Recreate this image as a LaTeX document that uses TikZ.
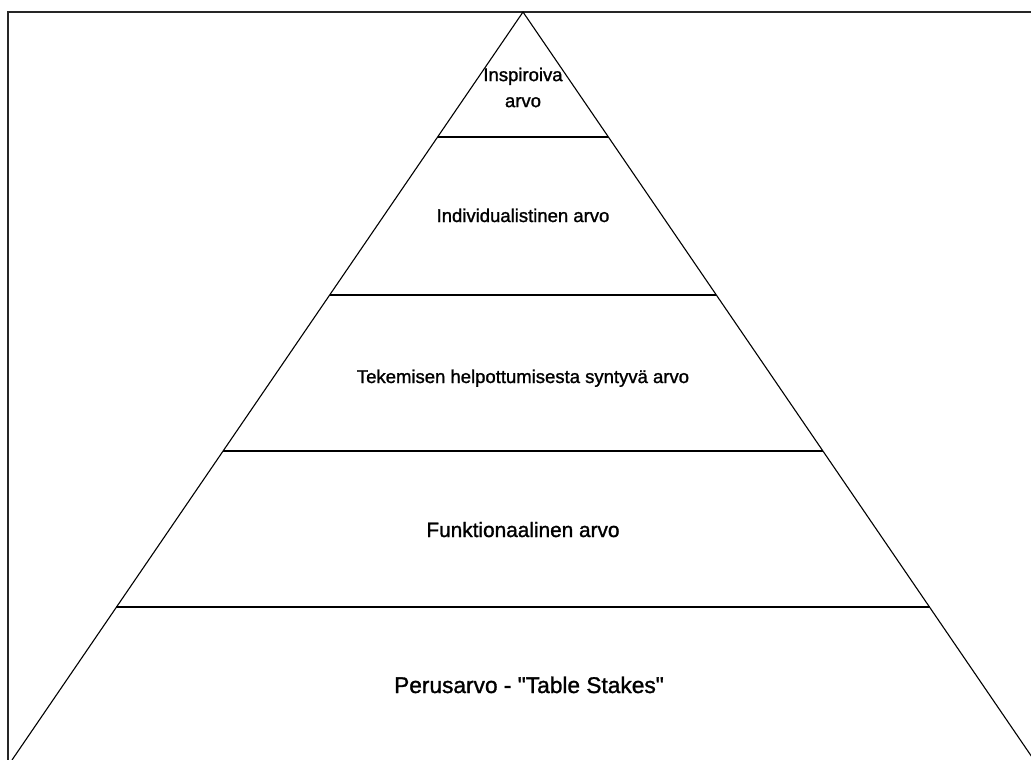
\documentclass[tikz,border=0pt]{standalone}
\usepackage{fontspec}
\setmainfont{Liberation Sans}
\newfontfamily\labfont{Liberation Sans}[FakeBold=1.3,Ligatures=TeXOff]
\usetikzlibrary{calc}
\begin{document}
\begin{tikzpicture}[x=1pt,y=-1pt,
  edge/.style={draw=black,line width=1.1pt},
  frameline/.style={draw=black!85,line width=1.4pt},
  lvl/.style={inner sep=0pt,anchor=base,text=black},
  small/.style={font=\labfont\fontsize{18.5}{26}\selectfont},
  mid/.style={font=\labfont\fontsize{20.8}{26}\selectfont},
  big/.style={font=\labfont\fontsize{22.7}{28}\selectfont}]
\useasboundingbox (0,0) rectangle (1031,760);
\clip (0,0) rectangle (1031,760);
% outer frame
\draw[frameline] (8,770) -- (8,12) -- (1040,12);
% pyramid outline
\coordinate (apex) at (523,12);
\coordinate (bl) at (12,760);
\coordinate (br) at (1034,760);
\draw[edge] (bl) -- (apex) -- (br);
% level boundaries
\foreach \t/\n in {0.1671/a,0.3783/b,0.5869/c,0.7955/d}{
  \coordinate (L\n) at ($(apex)!\t!(bl)$);
  \coordinate (R\n) at ($(apex)!\t!(br)$);
  \draw[edge] (L\n) -- (R\n);
}
% labels
\node[small,inner sep=0pt,align=center] (top) at (523,87.5) {Inspiroiva\\arvo};
\node[lvl,small] (indiv) at (523,222) {Individualistinen arvo};
\node[lvl,small] (ease) at (523,383) {Tekemisen helpottumisesta syntyvä arvo};
\node[lvl,mid] (func) at (523,537) {Funktionaalinen arvo};
\node[lvl,big] (base) at (529,693) {Perusarvo - "Table Stakes"};
\end{tikzpicture}
\end{document}
